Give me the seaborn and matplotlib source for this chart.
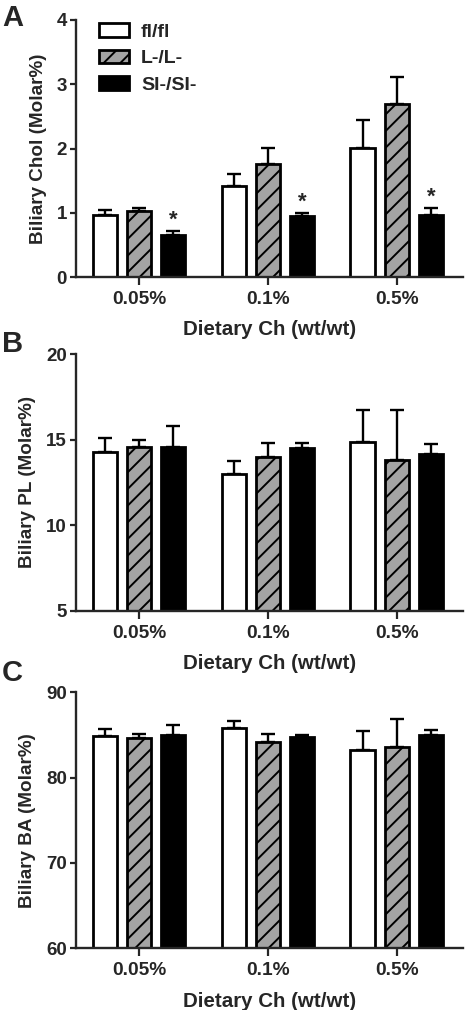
import pandas as pd
import matplotlib.pyplot as plt
import seaborn as sns
import numpy as np

doses = ['0.05%', '0.1%', '0.5%']
genotypes = ['fl/fl', 'L-/L-', 'SI-/SI-']

# Panel A - Biliary cholesterol
chol_mean = {'fl/fl': [0.96, 1.42, 2.01], 'L-/L-': [1.02, 1.76, 2.70], 'SI-/SI-': [0.66, 0.95, 0.97]}
chol_sem = {'fl/fl': [0.09, 0.18, 0.43], 'L-/L-': [0.06, 0.25, 0.42], 'SI-/SI-': [0.06, 0.05, 0.11]}

# Panel B - Biliary phospholipid
pl_mean = {'fl/fl': [14.29, 12.99, 14.87], 'L-/L-': [14.55, 14.00, 13.79], 'SI-/SI-': [14.55, 14.49, 14.14]}
pl_sem = {'fl/fl': [0.78, 0.76, 1.84], 'L-/L-': [0.42, 0.82, 2.92], 'SI-/SI-': [1.26, 0.33, 0.60]}

# Panel C - Biliary bile acid
ba_mean = {'fl/fl': [84.88, 85.78, 83.23], 'L-/L-': [84.64, 84.14, 83.60], 'SI-/SI-': [84.96, 84.70, 85.04]}
ba_sem = {'fl/fl': [0.78, 0.82, 2.24], 'L-/L-': [0.46, 0.96, 3.32], 'SI-/SI-': [1.24, 0.30, 0.56]}

sns.set_style('ticks')
plt.rcParams['font.family'] = ['Liberation Sans', 'DejaVu Sans']
plt.rcParams['font.weight'] = 'bold'
plt.rcParams['axes.labelweight'] = 'bold'
plt.rcParams['hatch.linewidth'] = 1.4

colors = ['white', '#a4a4a4', 'black']


def to_long(means):
    rows = []
    for g in genotypes:
        for d, v in zip(doses, means[g]):
            rows.append({'dose': d, 'genotype': g, 'value': v})
    return pd.DataFrame(rows)


def draw_panel(ax, means, sems, ylabel, ylim, yticks, stars=False, legend=False):
    df = to_long(means)
    sns.barplot(data=df, x='dose', y='value', hue='genotype', order=doses, hue_order=genotypes,
                palette=colors, edgecolor='black', linewidth=2.0, gap=0.3, errorbar=None,
                legend=False, ax=ax, saturation=1)
    for i, (g, cont) in enumerate(zip(genotypes, ax.containers)):
        xs = [b.get_x() + b.get_width() / 2 for b in cont]
        err = np.array(sems[g])
        ax.errorbar(xs, means[g], yerr=[np.zeros(3), err], fmt='none', ecolor='black',
                    elinewidth=1.7, capsize=5, capthick=1.7, zorder=0.5)
        if i == 1:
            for b in cont:
                b.set_hatch('//')
        if stars and g == 'SI-/SI-':
            for x, m, e in zip(xs, means[g], err):
                ax.annotate('*', (x, m + e), xytext=(0, 0), textcoords='offset points',
                            ha='center', va='bottom', fontsize=16, fontweight='bold')
    ax.set_ylim(*ylim)
    ax.set_yticks(yticks)
    ax.set_xlim(-0.49, 2.51)
    ax.set_ylabel(ylabel, fontsize=13.6, labelpad=7)
    ax.set_xlabel('Dietary Ch (wt/wt)', fontsize=14.8, labelpad=9)
    sns.despine(ax=ax)
    for s in ['left', 'bottom']:
        ax.spines[s].set_linewidth(1.7)
    ax.tick_params(axis='y', labelsize=13.5, width=1.6, length=4, pad=2.5)
    ax.tick_params(axis='x', labelsize=13.8, width=1.6, length=6, pad=4)
    for lab in ax.get_xticklabels() + ax.get_yticklabels():
        lab.set_fontweight('bold')
    if legend:
        handles = [c.patches[0] for c in ax.containers[:3]]
        ax.legend(handles, genotypes, loc='upper left', bbox_to_anchor=(0.015, 1.055), frameon=False,
                  handlelength=1.55, handleheight=0.7, labelspacing=0.45, handletextpad=0.6,
                  prop={'weight': 'bold', 'size': 14})


fig = plt.figure(figsize=(4.65, 10.1), dpi=100)
axA = fig.add_axes([0.163, 0.7257, 0.832, 0.2545])
axB = fig.add_axes([0.163, 0.3954, 0.832, 0.2540])
axC = fig.add_axes([0.163, 0.0611, 0.832, 0.2535])

draw_panel(axA, chol_mean, chol_sem, 'Biliary Chol (Molar%)', (0, 4), [0, 1, 2, 3, 4], stars=True, legend=True)
draw_panel(axB, pl_mean, pl_sem, 'Biliary PL (Molar%)', (5, 20), [5, 10, 15, 20])
draw_panel(axC, ba_mean, ba_sem, 'Biliary BA (Molar%)', (60, 90), [60, 70, 80, 90])

fig.text(0.004, 1 - 4 / 1010, 'A', fontsize=21, fontweight='bold', va='top')
fig.text(0.004, 1 - 330 / 1010, 'B', fontsize=21, fontweight='bold', va='top')
fig.text(0.004, 1 - 659 / 1010, 'C', fontsize=21, fontweight='bold', va='top')

fig.savefig('out.png', dpi=100)
